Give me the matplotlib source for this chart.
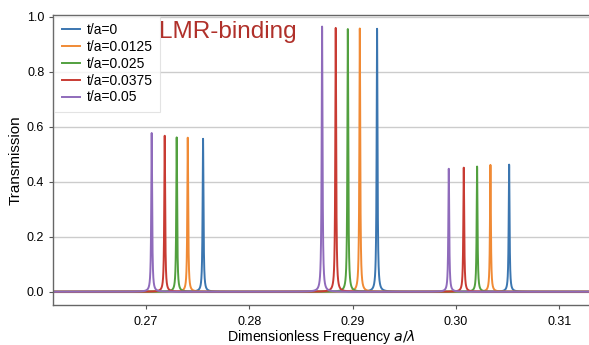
import numpy as np
import matplotlib
matplotlib.use("Agg")
import matplotlib.pyplot as plt

# peak positions (a/lambda) and heights, one row per t/a
labels = ["t/a=0", "t/a=0.0125", "t/a=0.025", "t/a=0.0375", "t/a=0.05"]
colors = ["#3b76b0", "#f08a35", "#52a03f", "#c83b33", "#8f6bbb"]

peak_freq = [
    [0.27552, 0.29236, 0.30514],
    [0.27404, 0.29069, 0.30333],
    [0.27297, 0.28953, 0.30204],
    [0.27181, 0.28836, 0.30075],
    [0.27055, 0.28704, 0.29930],
]
peak_height = [
    [0.556, 0.956, 0.462],
    [0.560, 0.957, 0.461],
    [0.561, 0.955, 0.455],
    [0.567, 0.959, 0.451],
    [0.577, 0.964, 0.447],
]
half_width = 0.00005

plt.rcParams['font.family'] = ['Liberation Sans', 'DejaVu Sans']

fig = plt.figure(figsize=(5.89, 3.45), dpi=100)
ax = fig.add_axes([0.0905, 0.117, 0.9095, 0.8395])

freq = np.linspace(0.2605, 0.3135, 40000)
for lab, col, f0s, hs in zip(labels, colors, peak_freq, peak_height):
    trans = np.zeros_like(freq)
    for f0, h in zip(f0s, hs):
        trans += h * half_width**2 / ((freq - f0)**2 + half_width**2)
    ax.plot(freq, trans, color=col, lw=1.4, label=lab)

ax.set_xlim(0.26103, 0.31287)
ax.set_ylim(-0.047, 1.006)
ax.set_xticks([0.27, 0.28, 0.29, 0.30, 0.31])
ax.set_xticklabels(["0.27", "0.28", "0.29", "0.30", "0.31"])
ax.set_yticks([0.0, 0.2, 0.4, 0.6, 0.8, 1.0])
ax.set_yticklabels(["0.0", "0.2", "0.4", "0.6", "0.8", "1.0"])
ax.tick_params(labelsize=9, length=3, color="#555555", width=0.8)
ax.tick_params(axis="x", pad=5)
ax.yaxis.grid(True, color="#cccccc", lw=1)
ax.set_axisbelow(True)

for side in ["left", "bottom", "top"]:
    ax.spines[side].set_color("#666666")
    ax.spines[side].set_linewidth(1.0)
ax.spines["right"].set_visible(False)

ax.set_xlabel(r"Dimensionless Frequency $a/\lambda$", fontsize=10.2)
ax.xaxis.set_label_coords(0.5, -0.08)
ax.set_ylabel("Transmission", fontsize=11, labelpad=3)

leg = ax.legend(loc="upper left", fontsize=10, frameon=True, fancybox=False,
                borderaxespad=0.05, handlelength=1.3, handletextpad=0.5,
                labelspacing=0.2, borderpad=0.55)
leg.get_frame().set_edgecolor("#dddddd")
leg.get_frame().set_linewidth(0.8)

ax.text(0.27794, 0.945, "LMR-binding", color="#b0302a", fontsize=17.5,
        ha="center", va="center")

fig.savefig("out.png", dpi=100)
